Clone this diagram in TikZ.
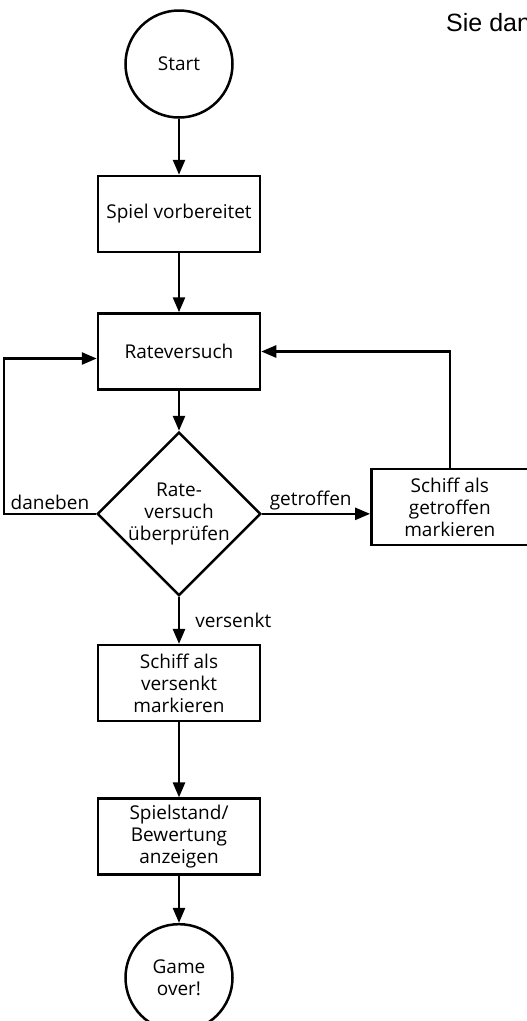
\documentclass[tikz,border=0pt]{standalone}
\usepackage{fontspec}
\setmainfont{Open Sans}
\newfontfamily\notefont{Liberation Sans}
\usetikzlibrary{shapes.geometric, arrows.meta, positioning}

\begin{document}
\begin{tikzpicture}[
			x=1pt, y=1pt,
			font=\fontsize{19}{22}\selectfont,
			terminal/.style={circle, draw, line width=2.5pt, minimum size=107pt, align=center},
			process/.style={rectangle, draw, line width=2.5pt, minimum width=162pt, minimum height=76pt, align=center},
			decision/.style={diamond, draw, line width=2.5pt, minimum width=153pt, minimum height=155pt, inner sep=0pt, align=center},
			arrow/.style={-{Triangle[width=12pt,length=15pt]}, line width=2.5pt},
			edgelabel/.style={inner sep=3pt}
			]
			
			% Bounding box
			\useasboundingbox (0,0) rectangle (527,-1021);
			
			% Nodes
			\node (start) [terminal] at (179,-64) {Start};
			\node (prepare) [process, below=56pt of start] {Spiel vorbereitet};
			\node (guess) [process, below=59pt of prepare] {Rateversuch};
			\node (check) [decision, below=40pt of guess] {Rate-\\versuch\\überprüfen};
			\node (hit) [process, minimum width=157pt, right=108pt of check, yshift=7pt] {Schiff als\\getroffen\\markieren};
			\node (sunk) [process, below=47pt of check] {Schiff als\\versenkt\\markieren};
			\node (score) [process, below=75pt of sunk] {Spielstand/\\Bewertung\\anzeigen};
			\node (over) [terminal, below=47pt of score] {Game\\over!};
			\node (note) [anchor=base west, inner sep=0pt, font=\notefont\fontsize{25}{29}\selectfont] at (446,-31) {Sie dan};
			
			% Connections
			\draw [arrow] (start) -- (prepare);
			\draw [arrow] (prepare) -- (guess);
			\draw [arrow] (guess) -- (check);
			\draw [arrow] (check.east) -- node [edgelabel, above, pos=0.45] {getroffen} (check.east -| hit.west);
			\draw [arrow] (hit.north) |- (guess.east);
			\draw [arrow] (check.west) -- node [edgelabel, above] {daneben} ++(-92,0) |- ([yshift=-7pt]guess.west);
			\draw [arrow] (check) -- node [edgelabel, right=12pt] {versenkt} (sunk);
			\draw [arrow] (sunk) -- (score);
			\draw [arrow] (score) -- (over);
			
		\end{tikzpicture}
\end{document}
